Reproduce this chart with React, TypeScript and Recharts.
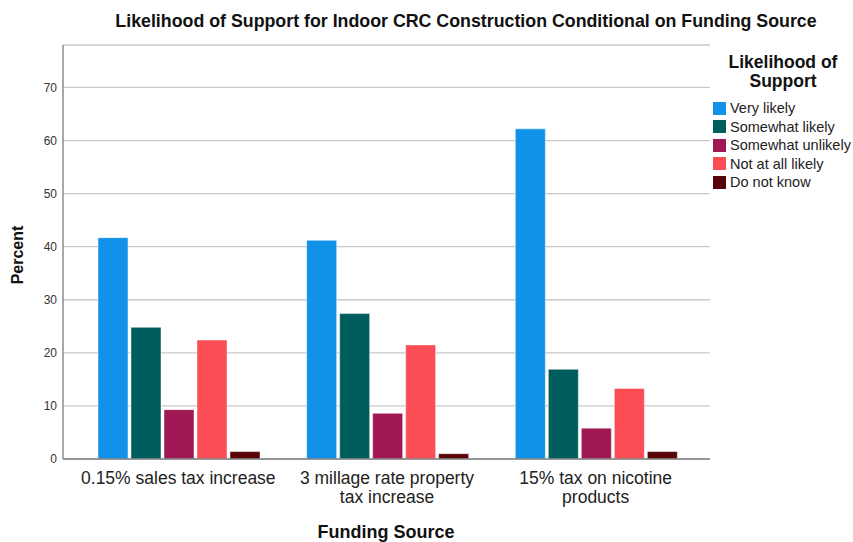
import { BarChart, Bar, XAxis, YAxis, CartesianGrid } from "recharts"

const categories = [
  "0.15% sales tax increase",
  "3 millage rate property tax increase",
  "15% tax on nicotine products",
]
const categoryLines = [
  ["0.15% sales tax increase"],
  ["3 millage rate property", "tax increase"],
  ["15% tax on nicotine", "products"],
]

const veryLikely = [41.7, 41.2, 62.2]
const somewhatLikely = [24.8, 27.4, 16.9]
const somewhatUnlikely = [9.3, 8.6, 5.8]
const notAtAllLikely = [22.4, 21.5, 13.3]
const doNotKnow = [1.4, 1.0, 1.4]

const yTicks = [0, 10, 20, 30, 40, 50, 60, 70]

const seriesNames = ["Very likely", "Somewhat likely", "Somewhat unlikely", "Not at all likely", "Do not know"]
const seriesKeys = ["veryLikely", "somewhatLikely", "somewhatUnlikely", "notAtAllLikely", "doNotKnow"]
const seriesColors = ["#1192e8", "#005d5d", "#9f1853", "#fa4d56", "#570408"]

const data = categories.map((c, i) => ({
  category: c,
  veryLikely: veryLikely[i],
  somewhatLikely: somewhatLikely[i],
  somewhatUnlikely: somewhatUnlikely[i],
  notAtAllLikely: notAtAllLikely[i],
  doNotKnow: doNotKnow[i],
}))

const FONT = 'Arial, "Liberation Sans", sans-serif'

function CategoryTick(props: any) {
  const { x, y, index } = props
  const lines = categoryLines[index] || [String(props.payload?.value)]
  return (
    <text x={x} y={y + 25} textAnchor="middle" fontSize={17.5} fontFamily={FONT} fill="#222">
      {lines.map((ln: string, i: number) => (
        <tspan key={i} x={x} dy={i === 0 ? 0 : 18.5}>
          {ln}
        </tspan>
      ))}
    </text>
  )
}

export default function App() {
  return (
    <div style={{ position: "absolute", left: 0, top: 0, width: 853, height: 542, background: "#fff", fontFamily: FONT }}>
      <BarChart
        width={853}
        height={542}
        data={data}
        margin={{ top: 45, right: 143, bottom: 33, left: 0 }}
        barCategoryGap={24}
        barGap={3}
      >
        <CartesianGrid vertical={false} stroke="#c8c8c8" strokeWidth={1.3} />
        <XAxis
          dataKey="category"
          height={50}
          padding={{ left: 11, right: 10 }}
          tickLine={false}
          tickSize={0}
          tickMargin={0}
          interval={0}
          axisLine={{ stroke: "#808080", strokeWidth: 1.5 }}
          tick={<CategoryTick />}
        />
        <YAxis
          width={63}
          domain={[0, 78]}
          ticks={yTicks}
          tickLine={false}
          tickSize={0}
          tickMargin={6}
          axisLine={{ stroke: "#8c8c8c", strokeWidth: 1.5 }}
          tick={{ fontSize: 12, fill: "#333", fontFamily: FONT }}
        />
        {seriesKeys.map((k, i) => (
          <Bar
            key={k}
            dataKey={k}
            name={seriesNames[i]}
            fill={seriesColors[i]}
            stroke="#ffffff"
            strokeOpacity={0.45}
            strokeWidth={1}
            isAnimationActive={false}
          />
        ))}
      </BarChart>

      <div style={{ position: "absolute", left: 466, top: 21, transform: "translate(-50%, -50%)", whiteSpace: "nowrap", fontSize: 17.8, fontWeight: "bold", color: "#111" }}>
        Likelihood of Support for Indoor CRC Construction Conditional on Funding Source
      </div>
      <div style={{ position: "absolute", left: 18, top: 255, transform: "translate(-50%, -50%) rotate(-90deg)", whiteSpace: "nowrap", fontSize: 16, fontWeight: "bold", color: "#111" }}>
        Percent
      </div>
      <div style={{ position: "absolute", left: 386, top: 532, transform: "translate(-50%, -50%)", whiteSpace: "nowrap", fontSize: 18, fontWeight: "bold", color: "#111" }}>
        Funding Source
      </div>

      <div style={{ position: "absolute", left: 783, top: 72, transform: "translate(-50%, -50%)", textAlign: "center", fontSize: 17.5, fontWeight: "bold", lineHeight: "19px", color: "#111", whiteSpace: "nowrap" }}>
        Likelihood of
        <br />
        Support
      </div>
      <div style={{ position: "absolute", left: 713, top: 99 }}>
        {seriesNames.map((n, i) => (
          <div key={n} style={{ display: "flex", alignItems: "center", height: 18.5 }}>
            <div style={{ width: 13, height: 13, background: seriesColors[i], marginRight: 4 }} />
            <span style={{ fontSize: 14.5, color: "#222", whiteSpace: "nowrap" }}>{n}</span>
          </div>
        ))}
      </div>
    </div>
  )
}
